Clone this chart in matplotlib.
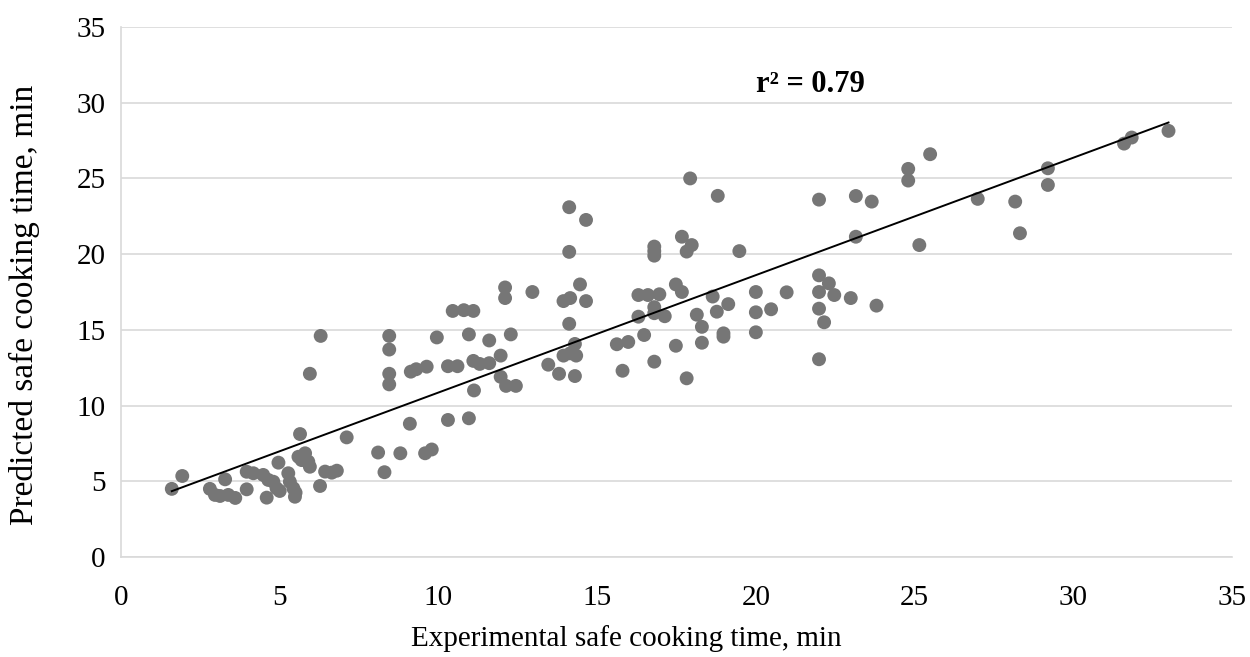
import numpy as np
import matplotlib
matplotlib.use("Agg")
import matplotlib.pyplot as plt

plt.rcParams['font.family'] = ['Liberation Serif', 'DejaVu Serif']

# Experimental (x) vs predicted (y) safe cooking time, min
experimental = [
    1.6, 1.93, 2.8, 2.96, 3.12, 3.28, 3.38, 3.6, 3.96, 3.96, 4.17, 4.48, 4.59, 4.64, 4.8, 4.9,
    4.96, 5.0, 5.27, 5.32, 5.43, 5.48, 5.5, 5.64, 5.59, 5.8, 5.9, 5.69, 5.95, 6.27, 6.43, 6.64,
    6.8, 7.11, 5.95, 6.29,
    8.1, 8.8, 8.3, 9.1, 8.45, 8.45, 8.45, 8.45, 9.13, 9.3, 9.63, 9.95, 10.3, 10.6, 10.45, 10.8,
    11.1, 10.96, 11.1, 11.3, 11.6, 11.6, 11.96, 12.28, 12.1, 12.1, 11.96, 12.13, 12.44, 11.12,
    10.3, 10.96, 9.58, 9.79,
    14.12, 14.65, 14.12, 12.96, 14.46, 13.94, 14.15, 14.65, 14.12, 14.3, 13.94, 14.15, 14.34,
    13.46, 13.8, 14.3, 15.8, 15.62, 15.98, 16.48, 16.3, 16.3, 16.6, 16.96, 16.8, 16.8, 16.8,
    16.8, 16.8, 16.8, 17.13, 17.48, 17.67, 17.67, 17.98, 17.82, 17.48, 17.82, 17.93,
    18.14, 18.3, 18.3, 18.64, 18.77, 19.13, 18.98, 18.98, 18.8, 19.48, 20.0, 20.0, 20.0, 20.48,
    20.97, 21.99, 23.15, 23.65, 23.15, 21.99, 22.3, 21.99, 22.47, 22.99, 23.8, 21.99, 22.15, 21.99,
    24.8, 24.8, 25.49, 25.15, 26.99, 28.17, 28.32, 29.2, 29.2, 31.6, 31.84, 33.0,
]
predicted = [
    4.5, 5.35, 4.5, 4.1, 4.03, 5.13, 4.1, 3.9, 4.47, 5.63, 5.53, 5.42, 3.92, 5.09, 4.97, 4.54,
    6.23, 4.36, 5.53, 4.97, 4.54, 3.98, 4.25, 8.12, 6.62, 6.85, 6.3, 6.4, 5.96, 4.69, 5.64, 5.57,
    5.7, 7.9, 12.1, 14.6,
    6.9, 6.85, 5.6, 8.8, 14.6, 13.7, 12.1, 11.4, 12.24, 12.4, 12.57, 14.5, 12.6, 12.6, 16.25, 16.3,
    16.25, 14.7, 12.95, 12.75, 12.8, 14.3, 13.3, 14.7, 17.8, 17.1, 11.9, 11.3, 11.3, 11.0,
    9.05, 9.16, 6.85, 7.1,
    23.1, 22.26, 20.15, 17.5, 18.0, 16.9, 17.1, 16.9, 15.4, 14.07, 13.3, 13.45, 13.3,
    12.7, 12.1, 11.95, 12.3, 14.05, 14.2, 14.66, 15.87, 17.3, 17.3, 17.35, 16.5, 16.1, 12.9,
    20.5, 20.2, 19.9, 15.9, 18.0, 17.5, 21.15, 20.6, 20.17, 13.95, 11.8, 25.0,
    16.0, 15.2, 14.15, 17.2, 16.2, 16.7, 14.77, 14.55, 23.85, 20.2, 17.5, 16.16, 14.84, 16.36,
    17.48, 23.6, 23.84, 23.47, 21.15, 18.6, 18.07, 17.5, 17.3, 17.1, 16.6, 16.4, 15.5, 13.06,
    25.63, 24.86, 26.6, 20.6, 23.65, 23.47, 21.38, 25.67, 24.57, 27.3, 27.7, 28.14,
]
x_ticks = [0, 5, 10, 15, 20, 25, 30, 35]
y_ticks = [0, 5, 10, 15, 20, 25, 30, 35]
r2_label = "r² = 0.79"

x = np.array(experimental)
y = np.array(predicted)

fig = plt.figure(figsize=(12.5, 6.57), dpi=100)
ax = fig.add_axes([0.0968, 0.1522, 0.8888, 0.8067])

ax.scatter(x, y, s=100, color='#767676', edgecolors='none', zorder=3)

slope, intercept = np.polyfit(x, y, 1)
xl = np.array([x.min(), x.max()])
ax.plot(xl, slope * xl + intercept, color='black', lw=1.4, zorder=4)

ax.set_xlim(0, 35)
ax.set_ylim(0, 35)
ax.set_xticks(x_ticks)
ax.set_yticks(y_ticks)
ax.tick_params(axis='both', length=0, labelsize=21)
ax.tick_params(axis='x', pad=20)
ax.tick_params(axis='y', pad=11)
ax.grid(axis='y', color='#d9d9d9', lw=1.2)
ax.set_axisbelow(True)
for s in ['top', 'right']:
    ax.spines[s].set_visible(False)
for s in ['left', 'bottom']:
    ax.spines[s].set_color('#d9d9d9')
    ax.spines[s].set_linewidth(1.2)

ax.set_xlabel("Experimental safe cooking time, min", fontsize=21)
ax.xaxis.set_label_coords(0.455, -0.128)
ax.set_ylabel("Predicted safe cooking time, min", fontsize=24)
ax.yaxis.set_label_coords(-0.073, 0.475)

ax.text(20.0, 31.2, r2_label, fontsize=22, fontweight='bold', ha='left', va='center')

fig.savefig("out.png", dpi=100)
